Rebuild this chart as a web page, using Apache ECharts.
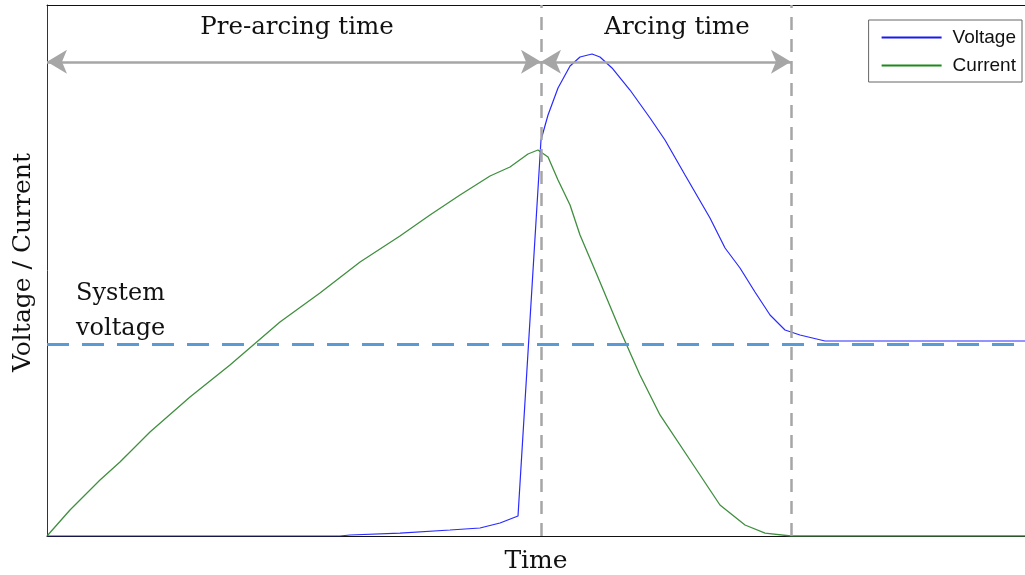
<!DOCTYPE html>
<html>
<head>
<meta charset="utf-8">
<script src="https://cdn.jsdelivr.net/npm/echarts@6/dist/echarts.min.js"></script>
<style>
  html, body { margin: 0; padding: 0; background: #fff; }
  #chart { width: 1025px; height: 575px; }
</style>
</head>
<body>
<div id="chart"></div>
<script>
// Time axis in arbitrary units (0..100), signal levels in arbitrary units (0..100)
const voltageTime = [0, 29.96, 30.98, 36.09, 41.21, 44.27, 46.32, 48.16, 50.51, 51.23, 52.25, 53.48, 54.50, 55.73, 56.54, 57.77, 59.61, 61.66, 63.19, 65.24, 67.79, 69.33, 70.86, 72.39, 73.93, 75.46, 76.99, 79.55, 100];
const voltageValues = [0, 0, 0.19, 0.56, 1.13, 1.51, 2.45, 3.77, 74.58, 79.28, 84.37, 88.51, 90.21, 90.77, 90.21, 88.14, 83.99, 78.72, 74.58, 67.98, 59.89, 54.24, 50.47, 45.95, 41.62, 38.79, 37.85, 36.72, 36.72];

const currentTime = [0, 2.35, 5.42, 7.46, 10.53, 14.62, 18.71, 23.82, 27.91, 32.01, 36.09, 39.16, 42.23, 45.30, 47.34, 49.18, 50.20, 51.23, 52.25, 53.48, 54.50, 56.24, 58.59, 60.63, 62.68, 65.75, 68.81, 71.37, 73.42, 76.07, 100];
const currentValues = [0, 4.90, 10.55, 13.94, 19.59, 26.18, 32.20, 40.30, 45.76, 51.60, 56.50, 60.45, 64.22, 67.80, 69.49, 71.94, 72.69, 71.37, 67.04, 62.34, 56.69, 49.15, 38.79, 30.32, 22.79, 14.31, 5.84, 2.07, 0.56, 0, 0];

const arcStart = 50.51;     // end of pre-arcing interval
const arcEnd = 76.07;       // end of arcing interval
const systemVoltage = 36.2;
const arrowLevel = 89.3;

const seriesNames = ['Voltage', 'Current'];
const phaseLabels = ['Pre-arcing time', 'Arcing time'];

const serif = '"DejaVu Serif", serif';
const gray = '#a6a6a6';

const chart = echarts.init(document.getElementById('chart'), null, { renderer: 'canvas' });

const zip = (xs, ys) => xs.map((x, i) => [x, ys[i]]);
const arrowEnd = (x) => ({ coord: [x, arrowLevel], symbol: 'arrow', symbolSize: [18, 20] });

chart.setOption({
  animation: false,
  backgroundColor: '#fff',
  grid: { left: 47, right: 0, top: 5, bottom: 39, outerBoundsMode: 'none', containLabel: false },
  legend: {
    data: seriesNames,
    orient: 'vertical',
    right: 3,
    top: 20,
    itemWidth: 60,
    itemHeight: 2,
    itemGap: 9,
    padding: [8, 6, 7, 13],
    borderColor: '#666',
    borderWidth: 1,
    icon: 'rect',
    textStyle: { fontFamily: '"Liberation Sans", Arial, sans-serif', fontSize: 19, color: '#111', padding: [0, 0, 0, 6] }
  },
  xAxis: [{
    type: 'value', min: 0, max: 100,
    name: 'Time', nameLocation: 'middle', nameGap: 13,
    nameTextStyle: { fontFamily: serif, fontSize: 25, color: '#111' },
    axisLine: { lineStyle: { color: '#111', width: 1 } },
    axisTick: { show: false }, axisLabel: { show: false }, splitLine: { show: false }
  }, {
    type: 'value', min: 0, max: 100, position: 'top',
    axisLine: { show: true, onZero: false, lineStyle: { color: '#111', width: 1 } },
    axisTick: { show: false }, axisLabel: { show: false }, splitLine: { show: false }
  }],
  yAxis: {
    type: 'value', min: 0, max: 100,
    name: 'Voltage / Current', nameLocation: 'middle', nameGap: 11,
    nameTextStyle: { fontFamily: serif, fontSize: 25, color: '#111', padding: [0, 0, 0, 16] },
    axisLine: { show: true, lineStyle: { color: '#333', width: 1 } },
    axisTick: { show: false }, axisLabel: { show: false }, splitLine: { show: false }
  },
  series: [{
    name: seriesNames[0], type: 'line', data: zip(voltageTime, voltageValues),
    symbol: 'none', z: 4,
    lineStyle: { color: '#2a2aff', width: 1.2 }, itemStyle: { color: '#1a1aee' }
  }, {
    name: seriesNames[1], type: 'line', data: zip(currentTime, currentValues),
    symbol: 'none', z: 3,
    lineStyle: { color: '#3f8f3f', width: 1.3 }, itemStyle: { color: '#1a8a1a' }
  }, {
    // reference lines and interval arrows
    type: 'line', data: [], silent: true,
    markLine: {
      silent: true, animation: false,
      symbol: ['none', 'none'],
      label: { show: false },
      lineStyle: { color: gray, width: 2.5, type: [13, 9] },
      data: [
        [{ coord: [arcStart, 0] }, { coord: [arcStart, 100] }],
        [{ coord: [arcEnd, 0] }, { coord: [arcEnd, 100] }],
        [{ coord: [0, systemVoltage], lineStyle: { color: '#5b9bd5', width: 3, type: [22, 13] } },
         { coord: [100, systemVoltage] }],
        [Object.assign(arrowEnd(0), { lineStyle: { color: gray, width: 2.5, type: 'solid' } }), arrowEnd(arcStart)],
        [Object.assign(arrowEnd(arcStart), { lineStyle: { color: gray, width: 2.5, type: 'solid' } }), arrowEnd(arcEnd)]
      ]
    }
  }],
  graphic: [
    { type: 'text', x: 297, y: 15, style: { text: phaseLabels[0], font: '24.5px ' + serif, fill: '#111', textAlign: 'center' } },
    { type: 'text', x: 677, y: 15, style: { text: phaseLabels[1], font: '24.5px ' + serif, fill: '#111', textAlign: 'center' } },
    { type: 'text', x: 76, y: 276, style: { text: 'System\nvoltage', font: '24px ' + serif, lineHeight: 35, fill: '#111' } }
  ]
});
</script>
</body>
</html>
